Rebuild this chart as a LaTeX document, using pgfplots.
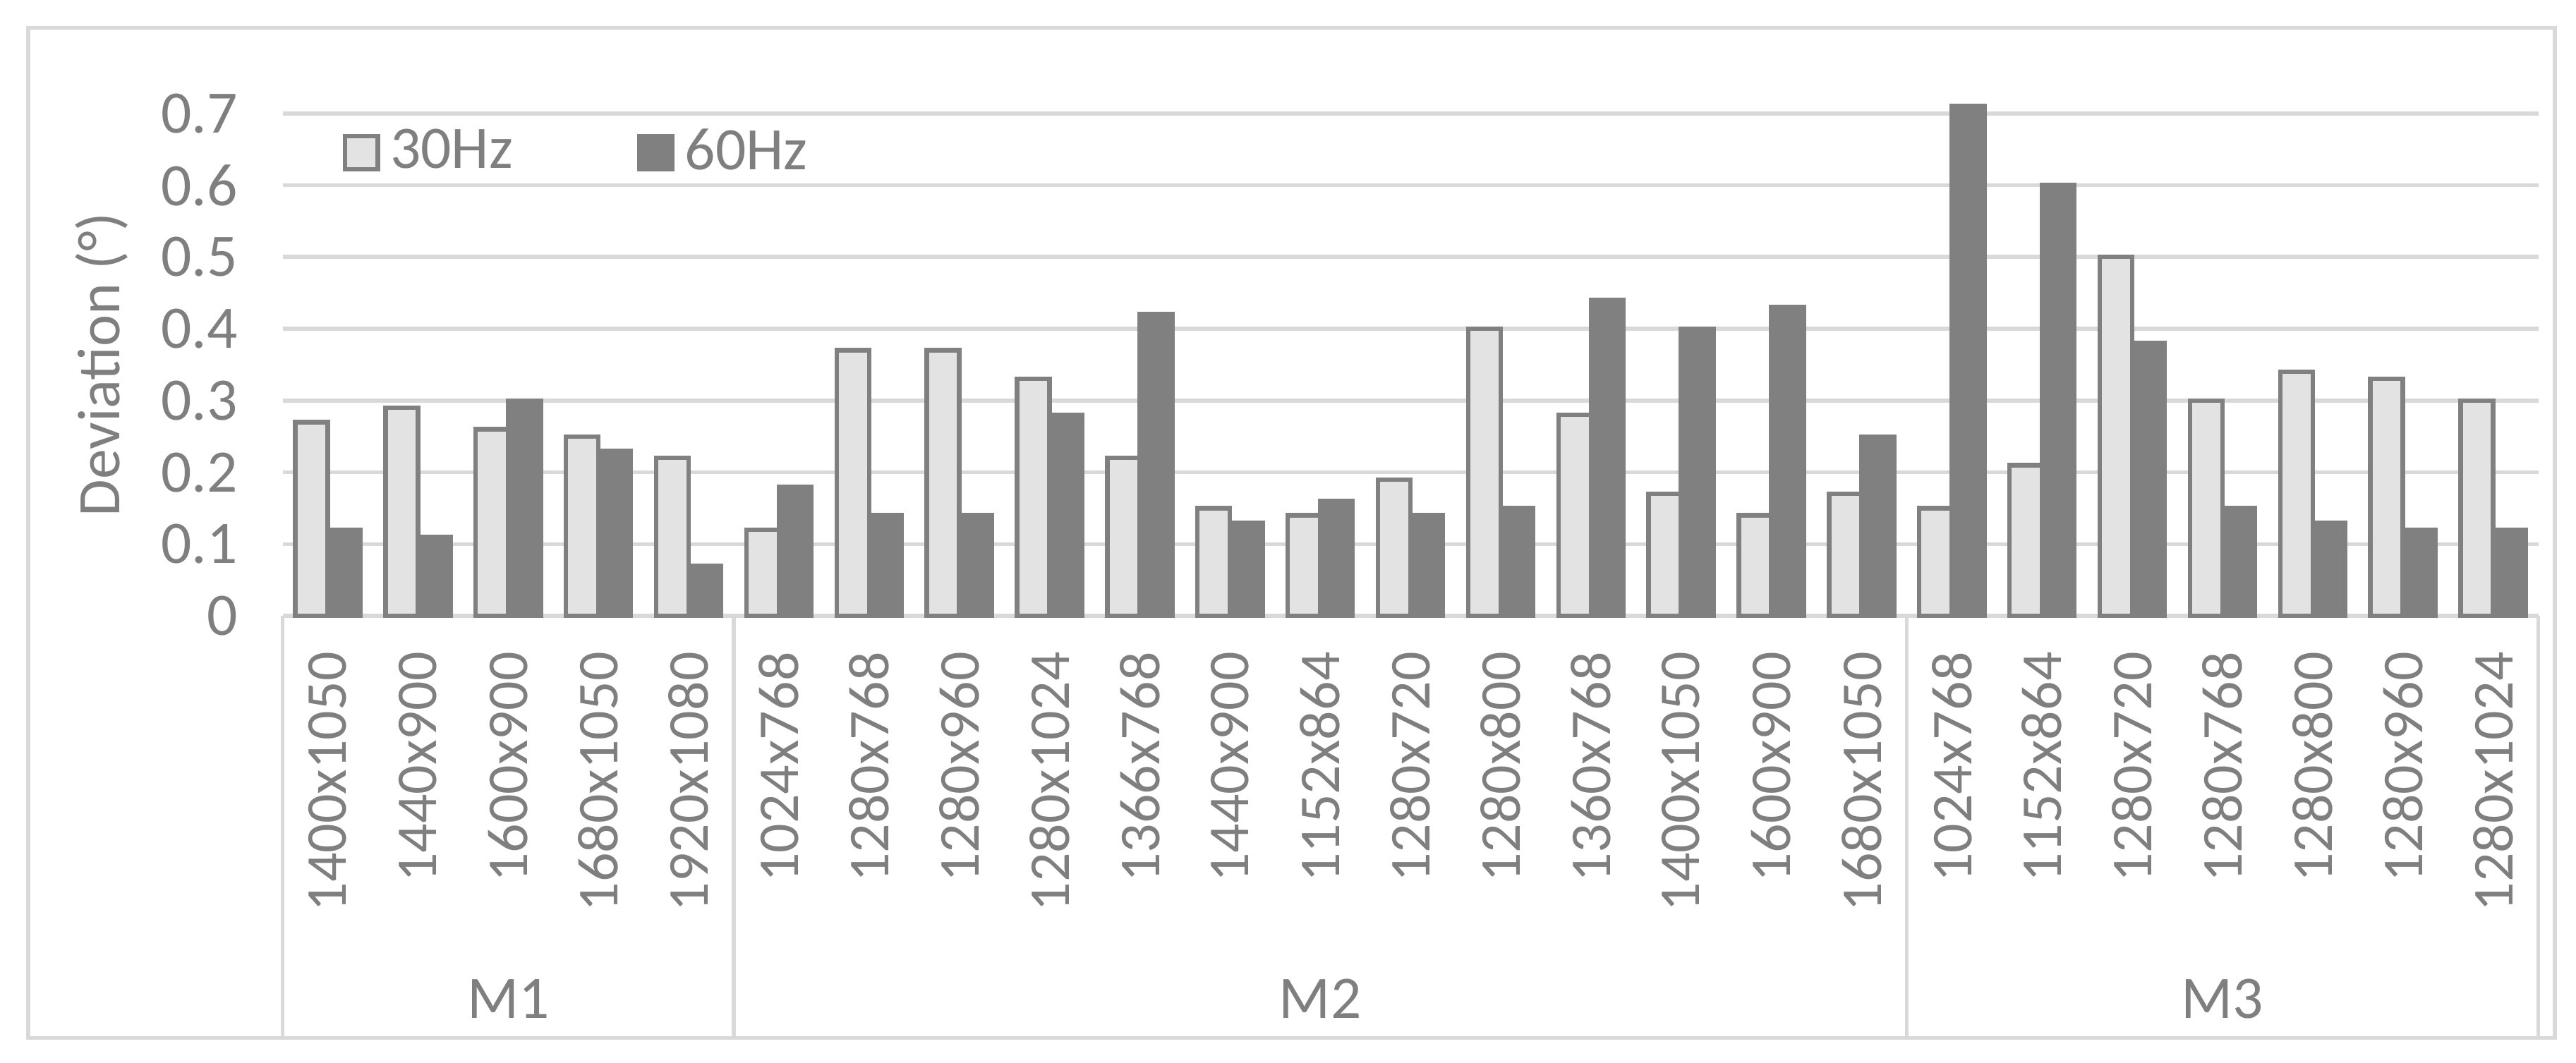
\documentclass[border=0pt]{standalone}
\usepackage{fontspec}
\setmainfont{Carlito}
\usepackage{pgfplots}
\pgfplotsset{compat=1.18}
\definecolor{gridgray}{HTML}{D9D9D9}
\definecolor{txt}{HTML}{7F7F7F}
\definecolor{darkbar}{HTML}{808080}
\definecolor{lightbar}{HTML}{E3E3E3}
\newcommand{\lbl}{\fontsize{12}{14}\selectfont}
\pgfplotsset{sqlegend/.style={legend image code/.code={\draw[##1] (0cm,-0.115cm) rectangle (0.23cm,0.115cm);}}}
\begin{document}
\begin{tikzpicture}
\useasboundingbox (-1.975,-3.123) rectangle (16.026,4.305);
\begin{axis}[
  scale only axis, width=15.762cm, height=3.513cm,
  ybar=0pt, bar width=0.36,
  xmin=-0.5, xmax=24.5, ymin=0, ymax=0.7,
  clip=false,
  xtick={0,...,24},
  xticklabels={1400x1050,1440x900,1600x900,1680x1050,1920x1080,
    1024x768,1280x768,1280x960,1280x1024,1366x768,1440x900,1152x864,1280x720,1280x800,1360x768,1400x1050,1600x900,1680x1050,
    1024x768,1152x864,1280x720,1280x768,1280x800,1280x960,1280x1024},
  ytick={0,0.1,0.2,0.3,0.4,0.5,0.6,0.7},
  yticklabels={0,0.1,0.2,0.3,0.4,0.5,0.6,0.7},
  major tick length=0pt,
  tick style={draw=none},
  axis x line*=bottom, axis y line*=left,
  y axis line style={draw=none},
  x axis line style={gridgray, line width=0.8pt},
  ymajorgrids, grid style={gridgray, line width=0.8pt},
  xticklabel style={rotate=90, anchor=east, inner sep=0pt, text=txt, font=\fontsize{11.5}{13}\selectfont},
  xticklabel shift=7pt,
  yticklabel style={anchor=east, inner sep=0pt, text=txt, font=\lbl},
  yticklabel shift=8.8pt,
  legend style={at={(0.0262,0.9216)}, anchor=west, draw=none, fill=none, inner sep=0pt,
    font=\lbl, text=txt, legend columns=2,
    /tikz/every even column/.append style={column sep=0.8cm}},
  legend cell align=left,
]
\addplot[fill=lightbar, draw=darkbar, line width=0.9pt, sqlegend]
  coordinates {(0,0.27) (1,0.29) (2,0.26) (3,0.25) (4,0.22)
    (5,0.12) (6,0.37) (7,0.37) (8,0.33) (9,0.22) (10,0.15) (11,0.14) (12,0.19) (13,0.40) (14,0.28) (15,0.17) (16,0.14) (17,0.17)
    (18,0.15) (19,0.21) (20,0.50) (21,0.30) (22,0.34) (23,0.33) (24,0.30)};
\addplot[fill=darkbar, draw=darkbar, line width=0.9pt, sqlegend]
  coordinates {(0,0.12) (1,0.11) (2,0.30) (3,0.23) (4,0.07)
    (5,0.18) (6,0.14) (7,0.14) (8,0.28) (9,0.42) (10,0.13) (11,0.16) (12,0.14) (13,0.15) (14,0.44) (15,0.40) (16,0.43) (17,0.25)
    (18,0.71) (19,0.60) (20,0.38) (21,0.15) (22,0.13) (23,0.12) (24,0.12)};
\legend{30Hz,60Hz}
% group separators and labels
\draw[gridgray, line width=0.8pt] (axis cs:-0.5,0) -- ([yshift=-2.95cm]axis cs:-0.5,0);
\draw[gridgray, line width=0.8pt] (axis cs:4.5,0) -- ([yshift=-2.95cm]axis cs:4.5,0);
\draw[gridgray, line width=0.8pt] (axis cs:17.5,0) -- ([yshift=-2.95cm]axis cs:17.5,0);
\draw[gridgray, line width=0.8pt] (axis cs:24.5,0) -- ([yshift=-2.95cm]axis cs:24.5,0);
\node[font=\lbl, text=txt] at ([yshift=-2.675cm]axis cs:2,0) {M1};
\node[font=\lbl, text=txt] at ([yshift=-2.675cm]axis cs:11,0) {M2};
\node[font=\lbl, text=txt] at ([yshift=-2.675cm]axis cs:21,0) {M3};
\node[rotate=90, font=\lbl, text=txt] at ([xshift=-1.263cm]axis cs:-0.5,0.35) {Deviation (°)};
\end{axis}
\draw[gridgray, line width=0.8pt] (-1.779,-2.950) rectangle (15.877,4.110);
\end{tikzpicture}
\end{document}
